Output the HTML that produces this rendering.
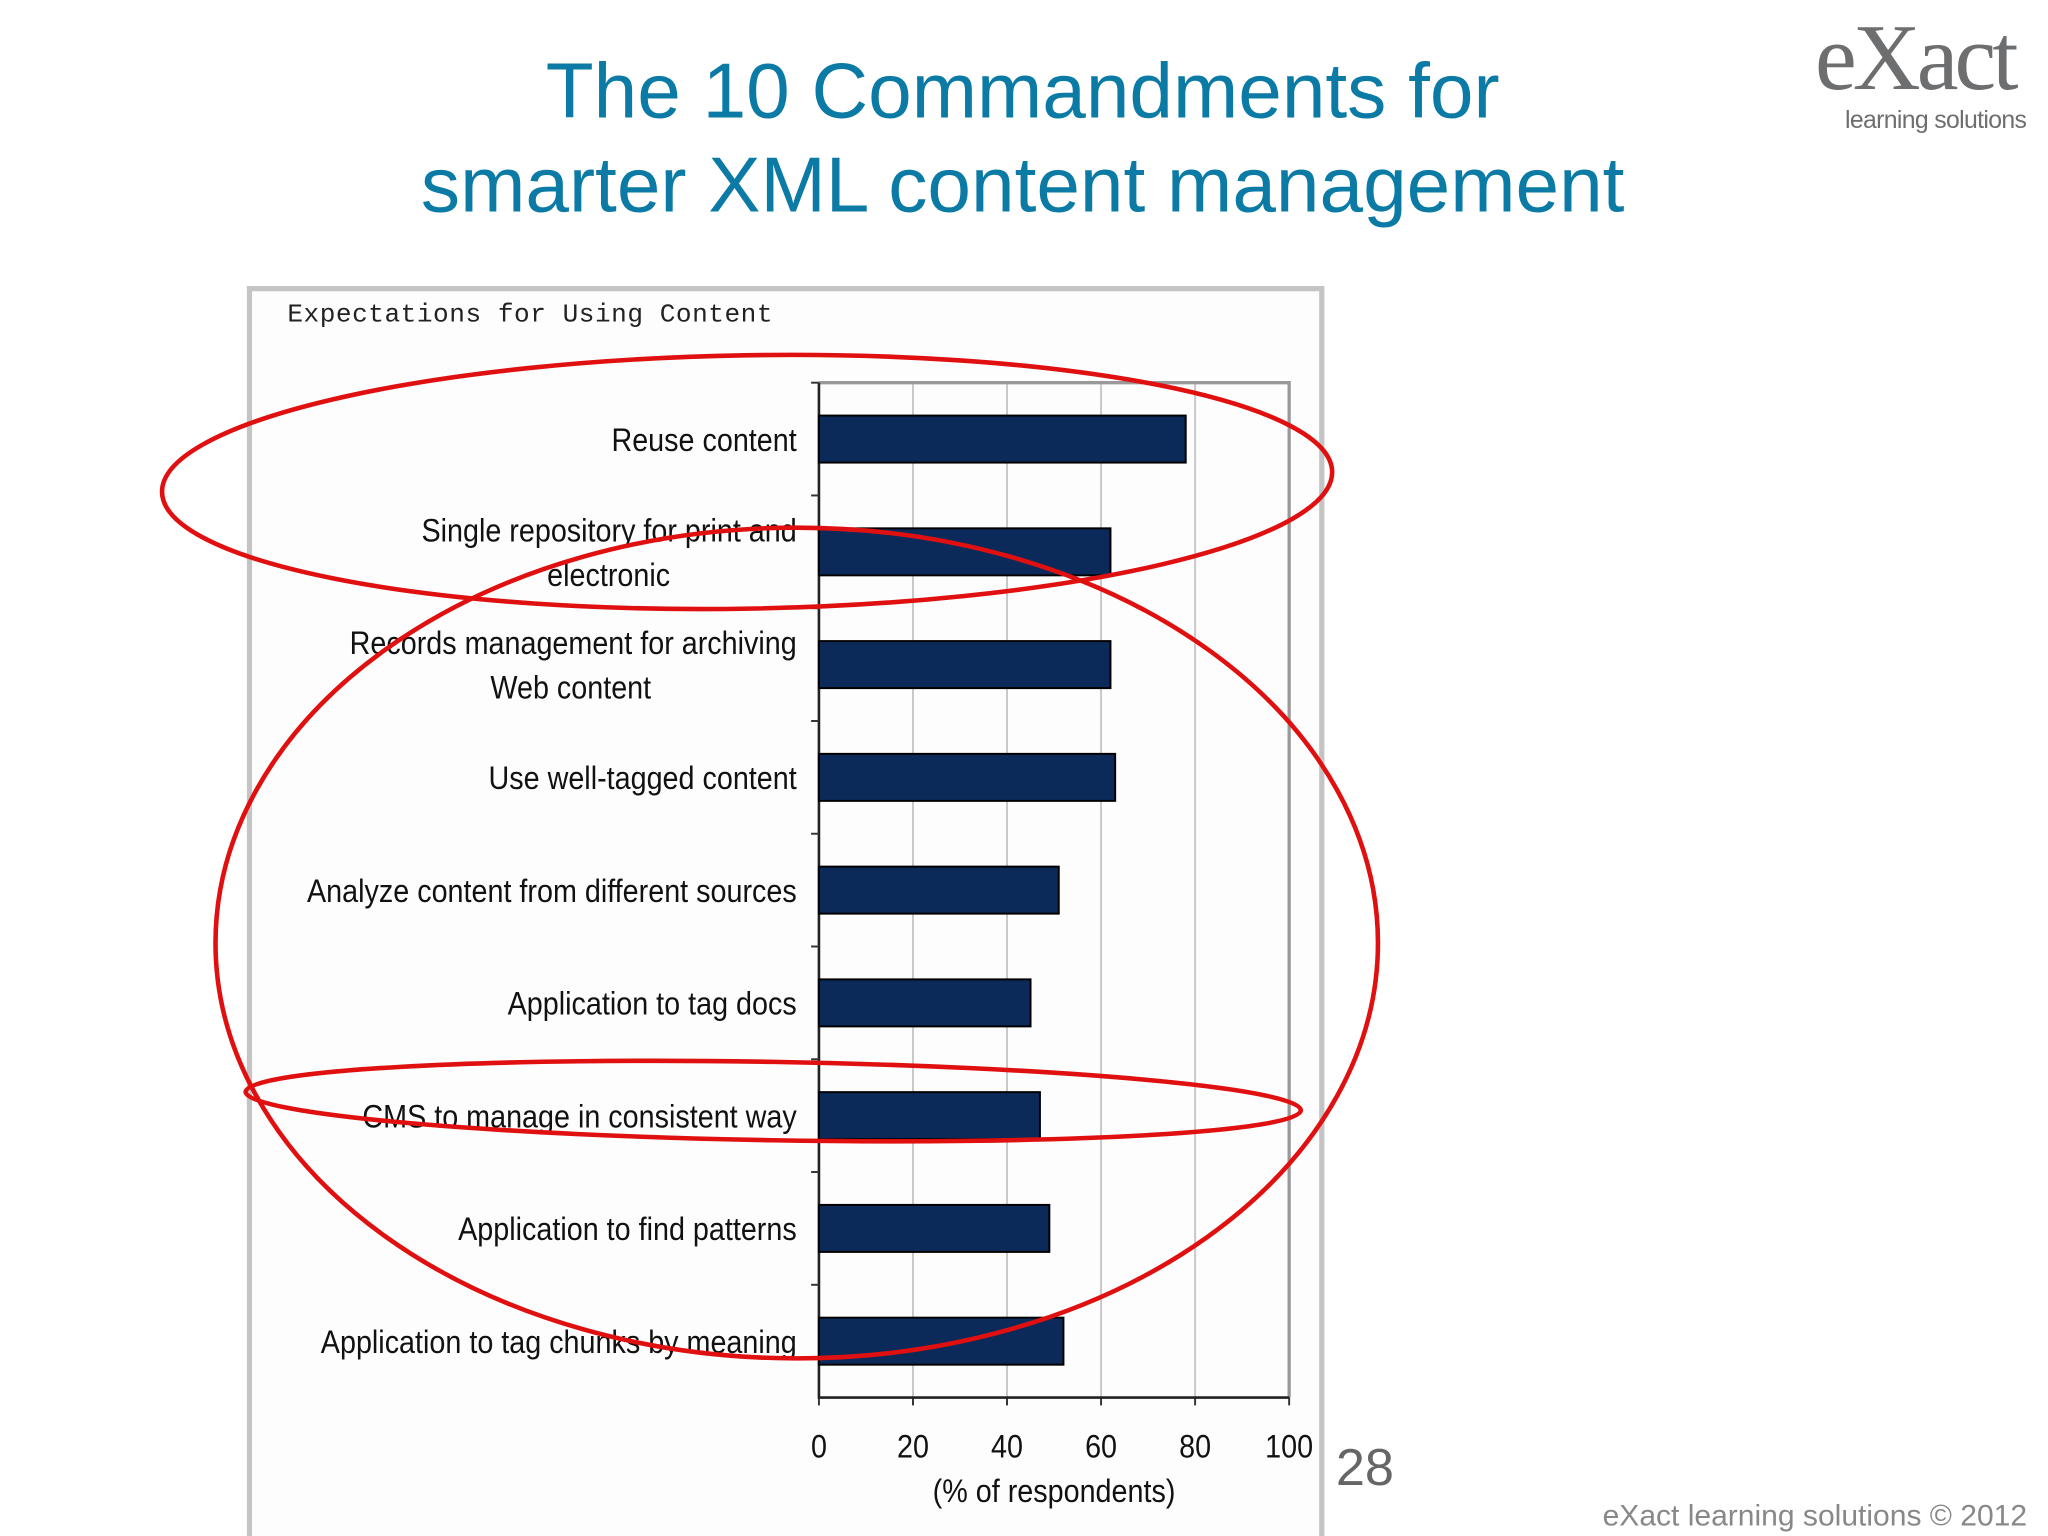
<!DOCTYPE html>
<html><head><meta charset="utf-8"><style>
html,body{margin:0;padding:0;background:#fff;}
svg{display:block;}
</style></head><body>
<svg width="2048" height="1536" viewBox="0 0 1568 1176" xmlns="http://www.w3.org/2000/svg">
<rect width="1568" height="1176" fill="#fff"/>
<text x="783" y="90" text-anchor="middle" font-family="'Liberation Sans',sans-serif" font-size="60" fill="#0b7ba5">The 10 Commandments for</text>
<text x="783" y="162" text-anchor="middle" font-family="'Liberation Sans',sans-serif" font-size="60" fill="#0b7ba5">smarter XML content management</text>
<g>
<text x="1466" y="68" text-anchor="middle" font-family="'Liberation Serif',serif" font-size="72" fill="#6d6e70" letter-spacing="-3">eXact</text>
<text x="1482" y="98" text-anchor="middle" font-family="'Liberation Sans',sans-serif" font-size="19" fill="#6d6e70" letter-spacing="-0.5">learning solutions</text>
</g>
<rect x="191" y="221" width="821" height="970" fill="#fdfdfd" stroke="#c4c4c4" stroke-width="4"/>
<text x="220" y="246" font-family="'Liberation Mono',monospace" font-size="20" fill="#222" letter-spacing="0.4">Expectations for Using Content</text>
<g id="chart"></g>
<text x="807" y="1150" text-anchor="middle" font-family="'Liberation Sans',sans-serif" font-size="25" fill="#111" transform="translate(807 0) scale(0.88 1) translate(-807 0)">(% of respondents)</text>
<g fill="none" stroke="#e01010" stroke-width="3.5">
<ellipse cx="572" cy="369" rx="448" ry="97" transform="rotate(-1 572 369)"/>
<ellipse cx="610" cy="722" rx="445" ry="318"/>
<ellipse cx="592" cy="843" rx="404" ry="30" transform="rotate(1 592 843)"/>
</g>
<text x="1045" y="1137" text-anchor="middle" font-family="'Liberation Sans',sans-serif" font-size="40" fill="#666">28</text>
<text x="1552" y="1168" text-anchor="end" font-family="'Liberation Sans',sans-serif" font-size="23" fill="#888">eXact learning solutions © 2012</text>
</svg>
<script>
const categories=[["Reuse content"],["Single repository for print and","electronic"],["Records management for archiving","Web content"],["Use well-tagged content"],["Analyze content from different sources"],["Application to tag docs"],["CMS to manage in consistent way"],["Application to find patterns"],["Application to tag chunks by meaning"]];
const values=[78,62,62,63,51,45,47,49,52];
const ticks=[0,20,40,60,80,100];
const NS="http://www.w3.org/2000/svg";
const g=document.getElementById("chart");
const L=627,R=987,T=293,B=1070;
const x=v=>L+(R-L)*v/100;
const band=(B-T)/categories.length;
const y=i=>T+band*i;
const SX=0.88;
function mk(tag,a){const e=document.createElementNS(NS,tag);for(const k in a)e.setAttribute(k,a[k]);g.appendChild(e);return e;}
function narrow(px){return `translate(${px} 0) scale(${SX} 1) translate(${-px} 0)`;}
ticks.forEach(t=>{
 if(t>0){const l=mk("line",{x1:x(t),x2:x(t),y1:T,y2:B,stroke:"#c8c8c8","stroke-width":1.5});
 
 }
 const tx=mk("text",{x:x(t),y:B+46,"text-anchor":"middle","font-family":"'Liberation Sans',sans-serif","font-size":25,fill:"#111",transform:narrow(x(t))});
 tx.textContent=t;
 
 
 const tk=mk("line",{x1:x(t),x2:x(t),y1:B,y2:B+6,stroke:"#333","stroke-width":1.5});
 
 
});
const fr=mk("path",{d:`M${L} ${T}H${R}V${B}`,fill:"none",stroke:"#999","stroke-width":2.5});


const ax=mk("path",{d:`M${L} ${T}V${B}H${R}`,fill:"none",stroke:"#222","stroke-width":2});


categories.forEach((c,i)=>{
 const cy=y(i)+band/2;
 const tk=mk("line",{x1:L-6,x2:L,y1:y(i),y2:y(i),stroke:"#333","stroke-width":1.5});
 
 
 const b=mk("rect",{x:L,y:cy-18,width:x(values[i])-L,height:36,fill:"#0b2a5a",stroke:"#000","stroke-width":1.5});
 
 
 const tx=mk("text",{x:610,"text-anchor":"end","font-family":"'Liberation Sans',sans-serif","font-size":25,fill:"#111",transform:narrow(610)});
 
 
 if(c.length===1){tx.setAttribute("y",cy+9);tx.textContent=c[0];}
 else{
  tx.setAttribute("y",cy-8);tx.textContent=c[0];
  const cx=i===1?466:437;
  const t2=mk("text",{x:cx,y:cy+26,"text-anchor":"middle","font-family":"'Liberation Sans',sans-serif","font-size":25,fill:"#111",transform:narrow(cx)});
  t2.textContent=c[1];
  
  
 }
});
</script>
</body></html>
